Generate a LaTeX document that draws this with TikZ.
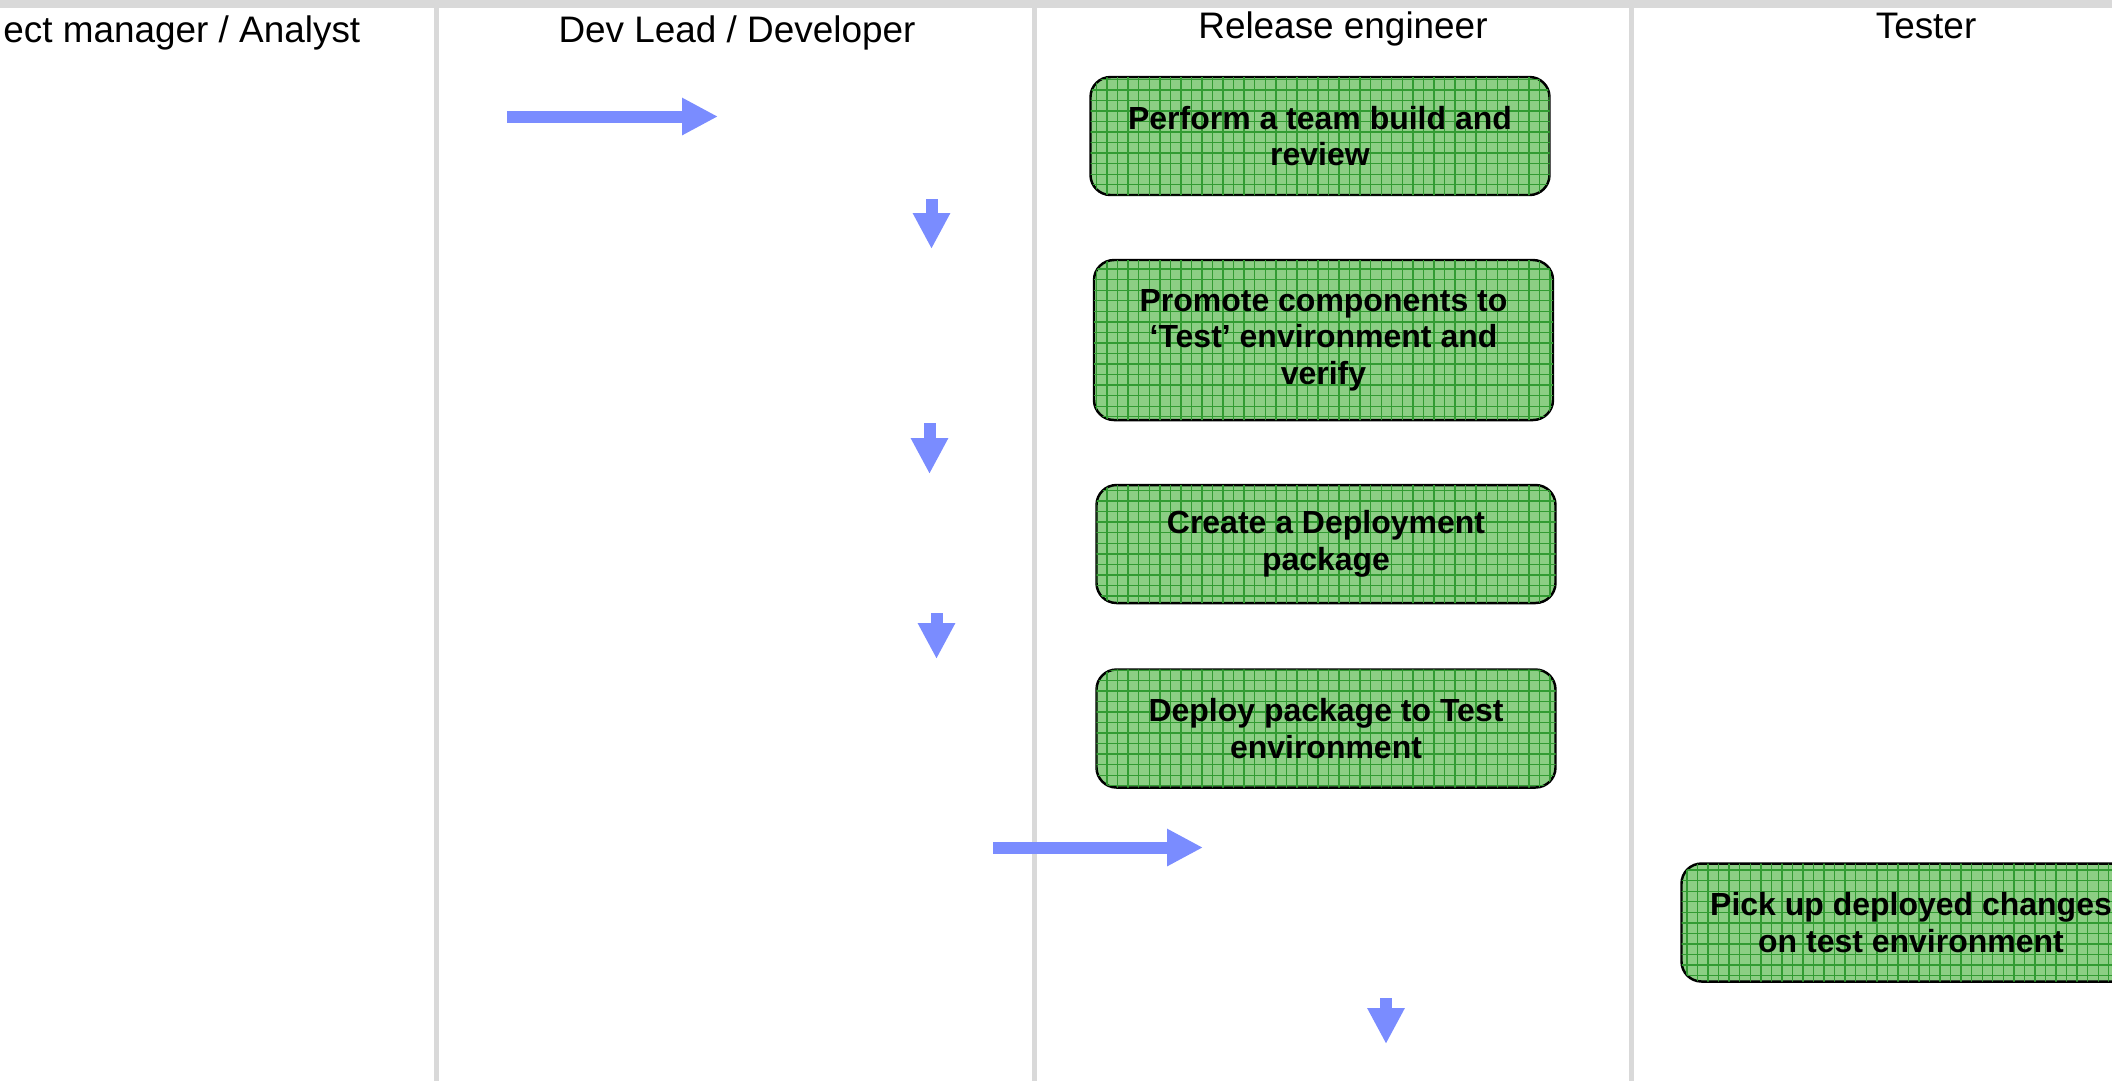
\documentclass[tikz,border=0pt]{standalone}
\usepackage{fontspec}
\setmainfont{Liberation Sans}
\usetikzlibrary{arrows.meta,patterns}

\definecolor{lanegray}{RGB}{217,217,217}
\definecolor{taskgreen}{RGB}{140,206,132}
\definecolor{gridgreen}{RGB}{50,155,50}
\definecolor{flowblue}{RGB}{122,140,255}

\begin{document}
\begin{tikzpicture}[
		lane/.style = {line width = 0.05cm, color = lanegray},
		lanetitle/.style = {anchor = base, font = \fontsize{10.5}{12}\selectfont},
		taskbox/.style = {draw, line width = 0.7pt, rounded corners = 0.2cm, fill = taskgreen,
			postaction = {pattern = grid, pattern color = gridgreen},
			minimum width = 4.59cm, minimum height = 1.18cm, align = center,
			font = \fontsize{9.1}{10.4}\selectfont\bfseries},
		flowarrow/.style = {line width = 0.12cm, color = flowblue,
			-{Triangle[width = 0.35cm, length = 0.36cm]}}
	]
		\useasboundingbox (0cm, 0cm) rectangle (21.12cm, -10.81cm);
		\clip (0cm, 0cm) rectangle (21.12cm, -10.81cm);

		% swim lanes
		\fill [lanegray] (0cm, 0cm) rectangle (21.12cm, -0.08cm);
		\draw [lane] (4.36cm, -0.05cm) -- (4.36cm, -10.81cm);
		\draw [lane] (10.34cm, -0.05cm) -- (10.34cm, -10.81cm);
		\draw [lane] (16.31cm, -0.05cm) -- (16.31cm, -10.81cm);

		\node (pmtitle) at (3.61cm, -0.42cm) [lanetitle, anchor = base east, inner xsep = 0pt] {ect manager / Analyst};
		\node (devtitle) at (7.37cm, -0.42cm) [lanetitle] {Dev Lead / Developer};
		\node (reltitle) at (13.43cm, -0.38cm) [lanetitle] {Release engineer};
		\node (testtitle) at (19.26cm, -0.38cm) [lanetitle] {Tester};

		% release engineer tasks
		\node (build) at (13.20cm, -1.36cm) [taskbox] {Perform a team build and\\review};
		\node (promote) at (13.235cm, -3.40cm) [taskbox, minimum height = 1.60cm] {Promote components to\\`Test' environment and\\verify};
		\node (package) at (13.26cm, -5.44cm) [taskbox] {Create a Deployment\\package};
		\node (deploy) at (13.26cm, -7.285cm) [taskbox] {Deploy package to Test\\environment};

		% tester task
		\node (pickup) at (19.11cm, -9.225cm) [taskbox] {Pick up deployed changes\\on test environment};

		% flow arrows
		\coordinate (inflow) at (5.07cm, -1.165cm);
		\coordinate (inflowend) at (7.18cm, -1.165cm);
		\draw [flowarrow] (inflow) -- (inflowend);

		\coordinate (downa) at (9.315cm, -1.99cm);
		\coordinate (downaend) at (9.315cm, -2.49cm);
		\draw [flowarrow] (downa) -- (downaend);

		\coordinate (downb) at (9.295cm, -4.23cm);
		\coordinate (downbend) at (9.295cm, -4.74cm);
		\draw [flowarrow] (downb) -- (downbend);

		\coordinate (downc) at (9.365cm, -6.13cm);
		\coordinate (downcend) at (9.365cm, -6.59cm);
		\draw [flowarrow] (downc) -- (downcend);

		\coordinate (toward) at (9.93cm, -8.475cm);
		\coordinate (towardend) at (12.03cm, -8.475cm);
		\draw [flowarrow] (toward) -- (towardend);

		\coordinate (downd) at (13.86cm, -9.98cm);
		\coordinate (downdend) at (13.86cm, -10.44cm);
		\draw [flowarrow] (downd) -- (downdend);
	\end{tikzpicture}
\end{document}
